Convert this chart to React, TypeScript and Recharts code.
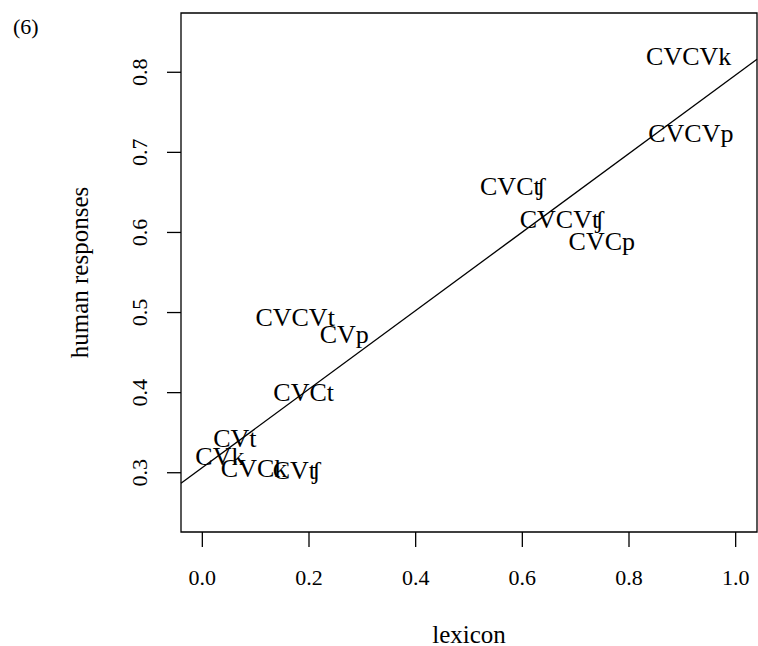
import React from "react";
import {
  ScatterChart,
  Scatter,
  XAxis,
  YAxis,
  ReferenceLine,
  ReferenceArea,
  Label,
} from "recharts";

const labels = [
  "CVCVk",
  "CVCVp",
  "CVCʧ",
  "CVCVʧ",
  "CVCp",
  "CVCVt",
  "CVp",
  "CVCt",
  "CVt",
  "CVk",
  "CVCk",
  "CVʧ",
];
const lexicon = [0.912, 0.916, 0.582, 0.674, 0.749, 0.174, 0.266, 0.19, 0.061, 0.033, 0.097, 0.177];
const human = [0.82, 0.724, 0.6575, 0.616, 0.589, 0.494, 0.4725, 0.4, 0.343, 0.32, 0.306, 0.303];

const xTicks = [0, 0.2, 0.4, 0.6, 0.8, 1.0];
const yTicks = [0.3, 0.4, 0.5, 0.6, 0.7, 0.8];
const xDomain: [number, number] = [-0.04, 1.04];
const yDomain: [number, number] = [0.226, 0.874];

const data = labels.map((label, i) => ({ label, x: lexicon[i], y: human[i] }));

// least-squares fit (lm(human ~ lexicon))
const n = lexicon.length;
const mx = lexicon.reduce((a, b) => a + b, 0) / n;
const my = human.reduce((a, b) => a + b, 0) / n;
let sxy = 0;
let sxx = 0;
for (let i = 0; i < n; i++) {
  sxy += (lexicon[i] - mx) * (human[i] - my);
  sxx += (lexicon[i] - mx) * (lexicon[i] - mx);
}
const slope = sxy / sxx;
const intercept = my - slope * mx;

const FONT = '"Liberation Serif", "DejaVu Serif", serif';

const LabelShape = (props: any) => {
  const { cx, cy, payload } = props;
  return (
    <text
      x={cx}
      y={cy}
      dy="0.33em"
      textAnchor="middle"
      fontFamily={FONT}
      fontSize={26}
      fill="#000"
    >
      {payload.label}
    </text>
  );
};

const XTick = (props: any) => {
  const { x, y, payload } = props;
  return (
    <text x={x} y={y + 36} textAnchor="middle" fontFamily={FONT} fontSize={22} fill="#000">
      {Number(payload.value).toFixed(1)}
    </text>
  );
};

const YTick = (props: any) => {
  const { x, y, payload } = props;
  const bx = x - 18;
  return (
    <text
      x={bx}
      y={y}
      textAnchor="middle"
      transform={`rotate(-90, ${bx}, ${y})`}
      fontFamily={FONT}
      fontSize={22}
      fill="#000"
    >
      {Number(payload.value).toFixed(1)}
    </text>
  );
};

export default function App() {
  return (
    <div style={{ position: "absolute", left: 0, top: 0, width: 758, height: 646, background: "#fff" }}>
      <svg
        width={60}
        height={50}
        style={{ position: "absolute", left: 0, top: 0 }}
      >
        <text x={13} y={34} fontFamily={FONT} fontSize={22} fill="#000">
          (6)
        </text>
      </svg>
      <ScatterChart
        width={758}
        height={646}
        margin={{ top: 13, right: 1, left: 0, bottom: 0 }}
      >
        <XAxis
          type="number"
          dataKey="x"
          domain={xDomain}
          ticks={xTicks}
          allowDataOverflow
          height={114}
          axisLine={false}
          tickLine={{ stroke: "#000", strokeWidth: 1.3 }}
          tickSize={15}
          tick={<XTick />}
        >
          <Label
            content={(p: any) => {
              const vb = p.viewBox;
              return (
                <text
                  x={vb.x + vb.width / 2}
                  y={vb.y + 111}
                  textAnchor="middle"
                  fontFamily={FONT}
                  fontSize={25}
                  fill="#000"
                >
                  lexicon
                </text>
              );
            }}
          />
        </XAxis>
        <YAxis
          type="number"
          dataKey="y"
          domain={yDomain}
          ticks={yTicks}
          allowDataOverflow
          width={181}
          axisLine={false}
          tickLine={{ stroke: "#000", strokeWidth: 1.3 }}
          tickSize={14}
          tick={<YTick />}
        >
          <Label
            content={(p: any) => {
              const vb = p.viewBox;
              const cx = 88;
              const cy = vb.y + vb.height / 2;
              return (
                <text
                  x={cx}
                  y={cy}
                  textAnchor="middle"
                  transform={`rotate(-90, ${cx}, ${cy})`}
                  fontFamily={FONT}
                  fontSize={25}
                  fill="#000"
                >
                  human responses
                </text>
              );
            }}
          />
        </YAxis>
        <ReferenceArea
          x1={xDomain[0]}
          x2={xDomain[1]}
          y1={yDomain[0]}
          y2={yDomain[1]}
          fill="none"
          fillOpacity={0}
          stroke="#000"
          strokeWidth={1.3}
          ifOverflow="visible"
        />
        <ReferenceLine
          segment={[
            { x: xDomain[0], y: intercept + slope * xDomain[0] },
            { x: xDomain[1], y: intercept + slope * xDomain[1] },
          ]}
          stroke="#000"
          strokeWidth={1.3}
          ifOverflow="visible"
        />
        <Scatter data={data} shape={<LabelShape />} isAnimationActive={false} />
      </ScatterChart>
    </div>
  );
}
